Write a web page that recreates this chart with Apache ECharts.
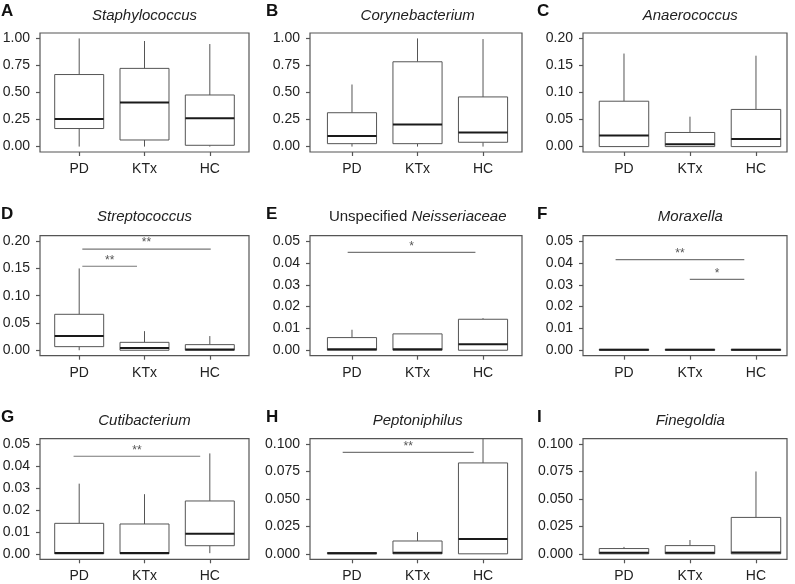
<!DOCTYPE html>
<html><head><meta charset="utf-8">
<script src="https://cdn.jsdelivr.net/npm/echarts@6/dist/echarts.min.js"></script>
<style>html,body{margin:0;padding:0;background:#fff}#c{width:795px;height:584px}</style>
</head><body><div id="c"></div>
<script>
const CATEGORIES = ['PD', 'KTx', 'HC'];
// each box: [min, Q1, median, Q3, max] for PD, KTx, HC
const staphylococcus  = [[0, 0.167, 0.255, 0.666, 1.0], [0, 0.061, 0.407, 0.723, 0.976], [0, 0.012, 0.261, 0.477, 0.948]];
const corynebacterium = [[0, 0.027, 0.097, 0.313, 0.574], [0, 0.027, 0.204, 0.784, 1.0], [0, 0.040, 0.131, 0.459, 0.994]];
const anaerococcus    = [[0, 0, 0.0207, 0.0839, 0.172], [0, 0, 0.0043, 0.0261, 0.0553], [0, 0, 0.014, 0.0687, 0.168]];
const streptococcus   = [[0, 0.0066, 0.026, 0.0659, 0.150], [0, 0, 0.0042, 0.0145, 0.035], [0, 0, 0.0015, 0.0103, 0.026]];
const neisseriaceae   = [[0, 0, 0.0004, 0.0058, 0.0094], [0, 0, 0.0004, 0.0075, 0.0075], [0, 0, 0.0027, 0.0142, 0.0147]];
const moraxella       = [[0, 0, 0.0002, 0.0004, 0.0004], [0, 0, 0.0002, 0.0004, 0.0004], [0, 0, 0.0002, 0.0004, 0.0004]];
const cutibacterium   = [[0, 0, 0.0004, 0.0139, 0.032], [0, 0, 0.0004, 0.0136, 0.0272], [0.0003, 0.0037, 0.0091, 0.0241, 0.0458]];
const peptoniphilus   = [[0, 0, 0.0005, 0.0012, 0.0012], [0, 0, 0.0009, 0.0117, 0.0198], [0, 0, 0.0135, 0.0829, 0.105]];
const finegoldia      = [[0, 0, 0.0009, 0.0048, 0.0063], [0, 0, 0.0009, 0.0075, 0.0126], [0, 0, 0.0012, 0.0332, 0.0751]];

// significance bars: [x start, x end, y, label]
const sigStreptococcus = [[1.048, 3.014, 0.1855, '**'], [1.048, 1.885, 0.154, '**']];
const sigNeisseriaceae = [[0.934, 2.884, 0.0449, '*']];
const sigMoraxella     = [[0.873, 2.823, 0.0415, '**'], [1.997, 2.823, 0.0325, '*']];
const sigCutibacterium = [[0.914, 2.853, 0.0445, '**']];
const sigPeptoniphilus = [[0.858, 2.858, 0.0925, '**']];

// y tick values
const ticksUnit = [0, 0.25, 0.5, 0.75, 1.0];
const ticks020  = [0, 0.05, 0.10, 0.15, 0.20];
const ticks005  = [0, 0.01, 0.02, 0.03, 0.04, 0.05];
const ticks0100 = [0, 0.025, 0.05, 0.075, 0.100];

const FONT = '"Liberation Sans", Arial, Helvetica, sans-serif';
const TXT = '#222';
const LINE = '#555';

const COLS = [
  { left: 40,  width: 209, xmin: 0.4,   xmax: 3.6,   cx: 144.5, lx: 1 },
  { left: 310, width: 212, xmin: 0.359, xmax: 3.595, cx: 417.7, lx: 266 },
  { left: 583, width: 204, xmin: 0.379, xmax: 3.47,  cx: 690.3, lx: 537 }
];
const ROWS = [
  { top: 33,    height: 119,   ty: 15.5,  ly: 11.3 },
  { top: 235.7, height: 120,   ty: 217.1, ly: 214 },
  { top: 438.7, height: 120.6, ty: 420.8, ly: 417.3 }
];

const PANELS = [
  { letter: 'A', title: '{i|Staphylococcus}', data: staphylococcus, sig: [], ticks: ticksUnit, dec: 2 },
  { letter: 'B', title: '{i|Corynebacterium}', data: corynebacterium, sig: [], ticks: ticksUnit, dec: 2 },
  { letter: 'C', title: '{i|Anaerococcus}', data: anaerococcus, sig: [], ticks: ticks020, dec: 2 },
  { letter: 'D', title: '{i|Streptococcus}', data: streptococcus, sig: sigStreptococcus, ticks: ticks020, dec: 2 },
  { letter: 'E', title: '{n|Unspecified }{i|Neisseriaceae}', data: neisseriaceae, sig: sigNeisseriaceae, ticks: ticks005, dec: 2 },
  { letter: 'F', title: '{i|Moraxella}', data: moraxella, sig: sigMoraxella, ticks: ticks005, dec: 2 },
  { letter: 'G', title: '{i|Cutibacterium}', data: cutibacterium, sig: sigCutibacterium, ticks: ticks005, dec: 2 },
  { letter: 'H', title: '{i|Peptoniphilus}', data: peptoniphilus, sig: sigPeptoniphilus, ticks: ticks0100, dec: 3 },
  { letter: 'I', title: '{i|Finegoldia}', data: finegoldia, sig: [], ticks: ticks0100, dec: 3 }
];

const BOX_W = 0.75;

function renderBox(params, api) {
  const x = api.value(0);
  const pMin = api.coord([x, api.value(1)]);
  const pQ1 = api.coord([x, api.value(2)]);
  const pMed = api.coord([x, api.value(3)]);
  const pQ3 = api.coord([x, api.value(4)]);
  const pMax = api.coord([x, api.value(5)]);
  const w = api.size([BOX_W, 0])[0];
  const cx = pMed[0];
  const ls = { stroke: LINE, lineWidth: 1 };
  return {
    type: 'group',
    children: [
      { type: 'line', shape: { x1: cx, y1: pMax[1], x2: cx, y2: pQ3[1] }, style: ls },
      { type: 'line', shape: { x1: cx, y1: pQ1[1], x2: cx, y2: pMin[1] }, style: ls },
      { type: 'rect', shape: { x: cx - w / 2, y: pQ3[1], width: w, height: pQ1[1] - pQ3[1] },
        style: { fill: '#fff', stroke: LINE, lineWidth: 1 } },
      { type: 'line', shape: { x1: cx - w / 2, y1: pMed[1], x2: cx + w / 2, y2: pMed[1] },
        style: { stroke: '#1a1a1a', lineWidth: 2 } }
    ]
  };
}

function makeSig(arr) {
  return function (params, api) {
    const p1 = api.coord([api.value(0), api.value(2)]);
    const p2 = api.coord([api.value(1), api.value(2)]);
    const label = arr[params.dataIndex][3];
    return {
      type: 'group',
      children: [
        { type: 'line', shape: { x1: p1[0], y1: p1[1], x2: p2[0], y2: p2[1] },
          style: { stroke: '#777', lineWidth: 1.2 } },
        { type: 'text', x: (p1[0] + p2[0]) / 2, y: p1[1] - 6,
          style: { text: label, align: 'center', verticalAlign: 'middle', fontSize: 12,
                   fontFamily: FONT, fill: '#555' } }
      ]
    };
  };
}

const grid = [], xAxis = [], yAxis = [], series = [], graphic = [];
PANELS.forEach((p, i) => {
  const col = COLS[i % 3], row = ROWS[Math.floor(i / 3)];
  const top = p.ticks[p.ticks.length - 1];
  grid.push({ left: col.left, top: row.top, width: col.width, height: row.height,
    show: true, borderColor: LINE, borderWidth: 1.2, backgroundColor: 'rgba(0,0,0,0)',
    containLabel: false, outerBoundsMode: 'none' });
  xAxis.push({ gridIndex: i, type: 'value', min: col.xmin, max: col.xmax,
    axisLine: { show: false, onZero: false }, splitLine: { show: false },
    axisTick: { show: true, length: 4, customValues: [1, 2, 3], lineStyle: { color: LINE, width: 1.2 } },
    axisLabel: { show: true, customValues: [1, 2, 3], formatter: v => CATEGORIES[Math.round(v) - 1],
      fontSize: 14, color: TXT, margin: 10, fontFamily: FONT } });
  yAxis.push({ gridIndex: i, type: 'value', min: -0.05 * top, max: 1.05 * top,
    axisLine: { show: false, onZero: false }, splitLine: { show: false },
    axisTick: { show: true, length: 4, customValues: p.ticks, lineStyle: { color: LINE, width: 1.2 } },
    axisLabel: { show: true, customValues: p.ticks, formatter: v => v.toFixed(p.dec),
      fontSize: 14, color: TXT, margin: 10, fontFamily: FONT } });
  series.push({ type: 'custom', xAxisIndex: i, yAxisIndex: i, renderItem: renderBox, clip: true,
    silent: true, encode: { x: 0, y: [1, 2, 3, 4, 5] },
    data: p.data.map((b, k) => [k + 1].concat(b)) });
  if (p.sig.length) {
    series.push({ type: 'custom', xAxisIndex: i, yAxisIndex: i, renderItem: makeSig(p.sig),
      silent: true, encode: { x: [0, 1], y: 2 },
      data: p.sig.map(s => [s[0], s[1], s[2]]) });
  }
  graphic.push({ type: 'text', x: col.cx, y: row.ty, silent: true,
    style: { text: p.title, align: 'center', verticalAlign: 'middle', fill: TXT,
      rich: { i: { fontStyle: 'italic', fontSize: 15, fontFamily: FONT, fill: TXT },
              n: { fontStyle: 'normal', fontSize: 15, fontFamily: FONT, fill: TXT } } } });
  graphic.push({ type: 'text', x: col.lx, y: row.ly, silent: true,
    style: { text: p.letter, align: 'left', verticalAlign: 'middle', fill: '#111',
      fontSize: 17, fontWeight: 'bold', fontFamily: FONT } });
});

const chart = echarts.init(document.getElementById('c'), null, { renderer: 'canvas' });
chart.setOption({ animation: false, backgroundColor: '#fff', grid, xAxis, yAxis, series, graphic });
</script></body></html>
